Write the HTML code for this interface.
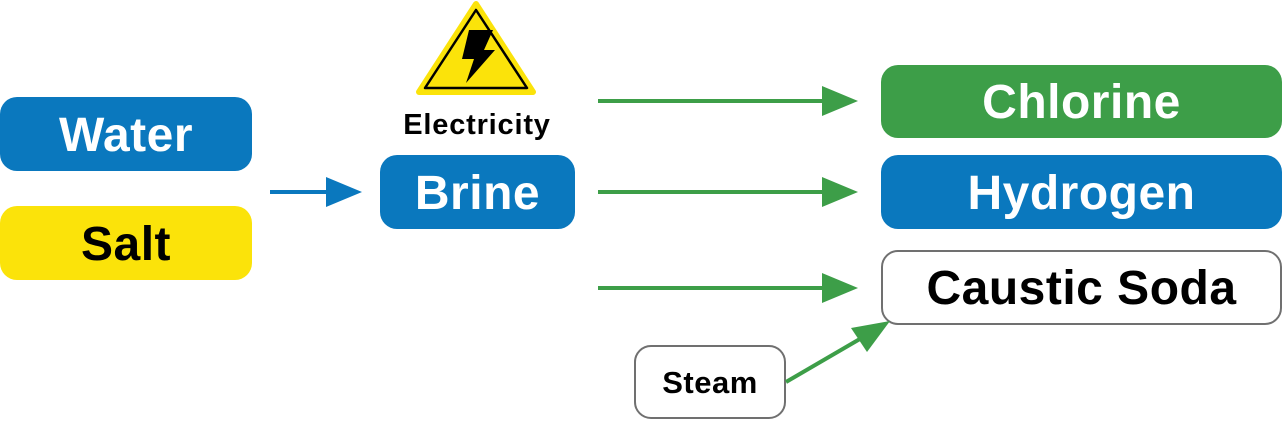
<!DOCTYPE html>
<html><head><style>
body{margin:0;width:1284px;height:422px;background:#fff;overflow:hidden;position:relative;font-family:"Liberation Sans",sans-serif;font-weight:bold}
.b{position:absolute;display:flex;align-items:center;justify-content:center;border-radius:17px;box-sizing:border-box;font-size:48px;letter-spacing:0.5px;padding-top:2px}
</style></head><body>
<div class="b" style="left:0;top:97px;width:252px;height:74px;background:#0a78be;color:#fff">Water</div>
<div class="b" style="left:0;top:206px;width:252px;height:74px;background:#fbe30a;color:#000">Salt</div>
<div class="b" style="left:380px;top:155px;width:195px;height:74px;background:#0a78be;color:#fff">Brine</div>
<div class="b" style="left:881px;top:65px;width:401px;height:73px;background:#3d9e48;color:#fff">Chlorine</div>
<div class="b" style="left:881px;top:155px;width:401px;height:74px;background:#0a78be;color:#fff">Hydrogen</div>
<div class="b" style="left:881px;top:250px;width:401px;height:75px;border:2px solid #707070;color:#000">Caustic Soda</div>
<div class="b" style="left:634px;top:345px;width:152px;height:74px;border:2px solid #707070;color:#000;font-size:31px">Steam</div>
<div style="position:absolute;left:367px;top:109px;width:220px;text-align:center;font-size:29px;letter-spacing:0.8px;color:#000">Electricity</div>
<svg width="1284" height="422" style="position:absolute;left:0;top:0">
<polygon points="476,4 533,92 419,92" fill="#fbe30a" stroke="#fbe30a" stroke-width="6" stroke-linejoin="round"/>
<polygon points="476,10 527,88 425,88" fill="#fbe30a" stroke="#000" stroke-width="2.5" stroke-linejoin="round"/>
<polygon points="469,30 493,30 484,50 495,50 466,83 474,59 462,59" fill="#000"/>
<g stroke-width="4">
<line x1="270" y1="192" x2="335" y2="192" stroke="#0a78be"/>
<line x1="598" y1="101" x2="830" y2="101" stroke="#3d9e48"/>
<line x1="598" y1="192" x2="830" y2="192" stroke="#3d9e48"/>
<line x1="598" y1="288" x2="830" y2="288" stroke="#3d9e48"/>
<line x1="786" y1="382" x2="865" y2="336" stroke="#3d9e48"/>
</g>
<polygon points="362,192 326,177 326,207" fill="#0a78be"/>
<polygon points="858,101 822,86 822,116" fill="#3d9e48"/>
<polygon points="858,192 822,177 822,207" fill="#3d9e48"/>
<polygon points="858,288 822,273 822,303" fill="#3d9e48"/>
<polygon points="890,321 851,328 867,352" fill="#3d9e48"/>
</svg>
</body></html>
